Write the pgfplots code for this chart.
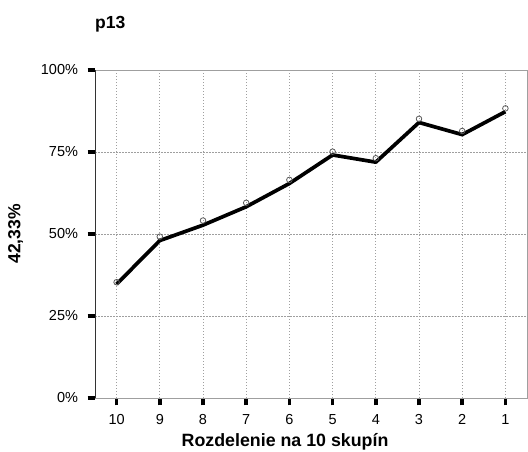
\documentclass[border=0pt]{standalone}
\usepackage{pgfplots}
\pgfplotsset{compat=1.18}
\usepackage{fontspec}
\setmainfont{Liberation Sans}
\begin{document}
\begin{tikzpicture}[x=1pt,y=1pt]
\path[use as bounding box] (0,0) rectangle (528,452);
\begin{axis}[
  at={(95pt,54pt)}, anchor=south west,
  scale only axis, width=432pt, height=328pt,
  xmin=-0.5, xmax=9.5, ymin=0, ymax=100,
  xtick={0,...,9},
  xticklabels={10,9,8,7,6,5,4,3,2,1},
  ytick={0,25,50,75,100},
  yticklabel={\pgfmathprintnumber{\tick}\%},
  /pgf/number format/assume math mode=true,
  ticklabel style={font=\fontsize{14.5}{17}\selectfont},
  tick align=outside,
  xtick pos=bottom, ytick pos=left,
  major tick length=7.5pt,
  tick style={line width=3.5pt, black},
  axis line style={draw=gray!75, line width=0.8pt},
  xmajorgrids, ymajorgrids,
  x grid style={gray!75, dash pattern=on 1pt off 2pt, line width=0.6pt},
  y grid style={gray!75, dash pattern=on 2pt off 1pt, line width=0.5pt},
  xticklabel style={yshift=-5pt},
  yticklabel style={xshift=-6pt},
  xlabel={Rozdelenie na 10 skupín},
  xlabel style={font=\bfseries\fontsize{17.8}{20}\selectfont, at={(axis description cs:0.44,-0.149)}, anchor=base},
  ylabel={42,33\%},
  ylabel style={font=\bfseries\fontsize{17.5}{20}\selectfont, at={(axis description cs:-0.184,0.5)}, anchor=center},
  clip=false,
]
\draw[black!80, line width=0.9pt] (axis description cs:0,0) -- (axis description cs:0,1);
\addplot[black, line width=3.7pt, line join=round] coordinates {
 (0,34.7) (1,48.0) (2,52.7) (3,58.3) (4,65.4) (5,74.1) (6,71.9) (7,84.0) (8,80.3) (9,87.3)};
\addplot[only marks, mark=o, mark size=2.8pt, mark options={draw=gray!70!black, line width=0.8pt, fill=white}] coordinates {
 (0,35.3) (1,49.2) (2,54.1) (3,59.5) (4,66.5) (5,75.1) (6,73.1) (7,85.1) (8,81.4) (9,88.3)};
\node[anchor=base west, font=\bfseries\fontsize{17.5}{20}\selectfont, inner sep=0pt] at (axis description cs:0,1.128) {p13};
\end{axis}
\end{tikzpicture}
\end{document}
